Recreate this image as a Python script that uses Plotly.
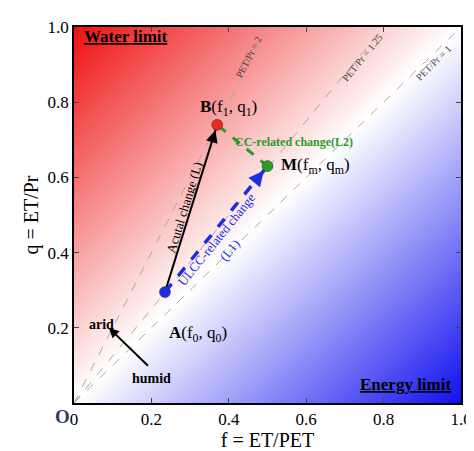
import numpy as np
import plotly.graph_objects as go

pts_names = ["A", "B", "M"]
pts_f = [0.235, 0.37, 0.50]
pts_q = [0.295, 0.74, 0.63]
pts_colors = ["#1a2fe0", "#e82a1a", "#2a9a2a"]
ratios = [2, 1.25, 1]
ticks = [0, 0.2, 0.4, 0.6, 0.8, 1.0]

F = "Liberation Serif"
g = np.linspace(0, 1, 201)
Z = g[:, None] - g[None, :]
fig = go.Figure()
fig.add_trace(go.Heatmap(x=g, y=g, z=Z, zmin=-1, zmax=1, showscale=False, hoverinfo="skip",
                         colorscale=[[0, "#1010ee"], [0.5, "#ffffff"], [1, "#ee1010"]]))
for r in ratios:
    xe = min(1, 1 / r)
    fig.add_trace(go.Scatter(x=[0, xe], y=[0, r * xe], mode="lines",
                             line=dict(color="#aaaaaa", dash="dash", width=1), hoverinfo="skip"))
A, B, M = [(pts_f[i], pts_q[i]) for i in range(3)]
def arrow(p0, p1, color, width=2):
    t = 0.9
    q0 = (p0[0] + t * (p1[0] - p0[0]), p0[1] + t * (p1[1] - p0[1]))
    fig.add_annotation(x=p1[0], y=p1[1], ax=q0[0], ay=q0[1], xref="x", yref="y", axref="x", ayref="y",
                       showarrow=True, arrowhead=2, arrowsize=1.2, arrowwidth=width, arrowcolor=color,
                       standoff=6, text="")
fig.add_trace(go.Scatter(x=[A[0], B[0]], y=[A[1], B[1]], mode="lines", line=dict(color="black", width=2), hoverinfo="skip"))
fig.add_trace(go.Scatter(x=[A[0], M[0]], y=[A[1], M[1]], mode="lines", line=dict(color="#1a2fe0", width=3.5, dash="dash"), hoverinfo="skip"))
fig.add_trace(go.Scatter(x=[M[0], B[0]], y=[M[1], B[1]], mode="lines", line=dict(color="#2a9a2a", width=3, dash="dash"), hoverinfo="skip"))
fig.add_trace(go.Scatter(x=pts_f, y=pts_q, mode="markers",
                         marker=dict(color=pts_colors, size=11, line=dict(color="#333", width=0.5)),
                         hoverinfo="skip"))
arrow(A, B, "black")
arrow(A, M, "#1a2fe0", width=2.5)
arrow(M, B, "#2a9a2a", width=2.5)

def txt(x, y, t, size=13, color="black", angle=0, xa="center", ya="middle"):
    fig.add_annotation(x=x, y=y, text=t, showarrow=False, textangle=angle, xanchor=xa, yanchor=ya,
                       font=dict(family=F, size=size, color=color))
txt(0.02, 0.975, "<b><u>Water limit</u></b>", 17, xa="left")
txt(0.98, 0.05, "<b><u>Energy limit</u></b>", 17, xa="right")
txt(0.24, 0.15, "<b>A</b>(f<sub>0</sub>, q<sub>0</sub>)", 17, xa="left", ya="bottom")
txt(0.32, 0.75, "<b>B</b>(f<sub>1</sub>, q<sub>1</sub>)", 17, xa="left", ya="bottom")
txt(0.53, 0.63, "<b>M</b>(f<sub>m</sub>, q<sub>m</sub>)", 17, xa="left")
txt(0.41, 0.695, "<b>CC-related change(L2)</b>", 12, "#2a9a2a", xa="left")
txt(0.285, 0.52, "Acutal change (L)", 13, angle=-73)
txt(0.385, 0.42, "ULCC-related change<br>(L1)", 13, "#1a2fe0", angle=-51)
txt(0.45, 0.92, "PET/Pr = 2", 10, "#444", angle=-63)
txt(0.745, 0.92, "PET/Pr = 1.25", 10, "#444", angle=-51)
txt(0.93, 0.905, "PET/Pr = 1", 10, "#444", angle=-45)
txt(0.07, 0.21, "<b>arid</b>", 14)
txt(0.2, 0.065, "<b>humid</b>", 14)
fig.add_annotation(x=0.09, y=0.2, ax=0.195, ay=0.095, xref="x", yref="y", axref="x", ayref="y",
                   showarrow=True, arrowhead=2, arrowwidth=2, arrowcolor="black", text="")
fig.add_annotation(x=0, y=0, xref="paper", yref="paper", text="<b>O</b>", showarrow=False,
                   xanchor="right", yanchor="top", xshift=-2, yshift=-1, font=dict(family=F, size=19))

ax = dict(range=[0, 1], tickvals=ticks,
          ticks="inside", ticklen=5, mirror="ticks", showline=True, linecolor="black", linewidth=1.5,
          showgrid=False, zeroline=False, tickfont=dict(family=F, size=17, color="black"))
fig.update_xaxes(**ax, ticktext=["0"] + [f"{t:.1f}" for t in ticks[1:]],
                 title=dict(text="f = ET/PET", font=dict(family=F, size=20, color="black"), standoff=2))
fig.update_yaxes(**ax, ticktext=[""] + [f"{t:.1f}" for t in ticks[1:]],
                 title=dict(text="q = ET/Pr", font=dict(family=F, size=20, color="black"), standoff=4))
fig.update_layout(width=474, height=451, margin=dict(l=66, r=21, t=10, b=56), showlegend=False,
                  plot_bgcolor="white", paper_bgcolor="white")
fig.write_html("out.html")
